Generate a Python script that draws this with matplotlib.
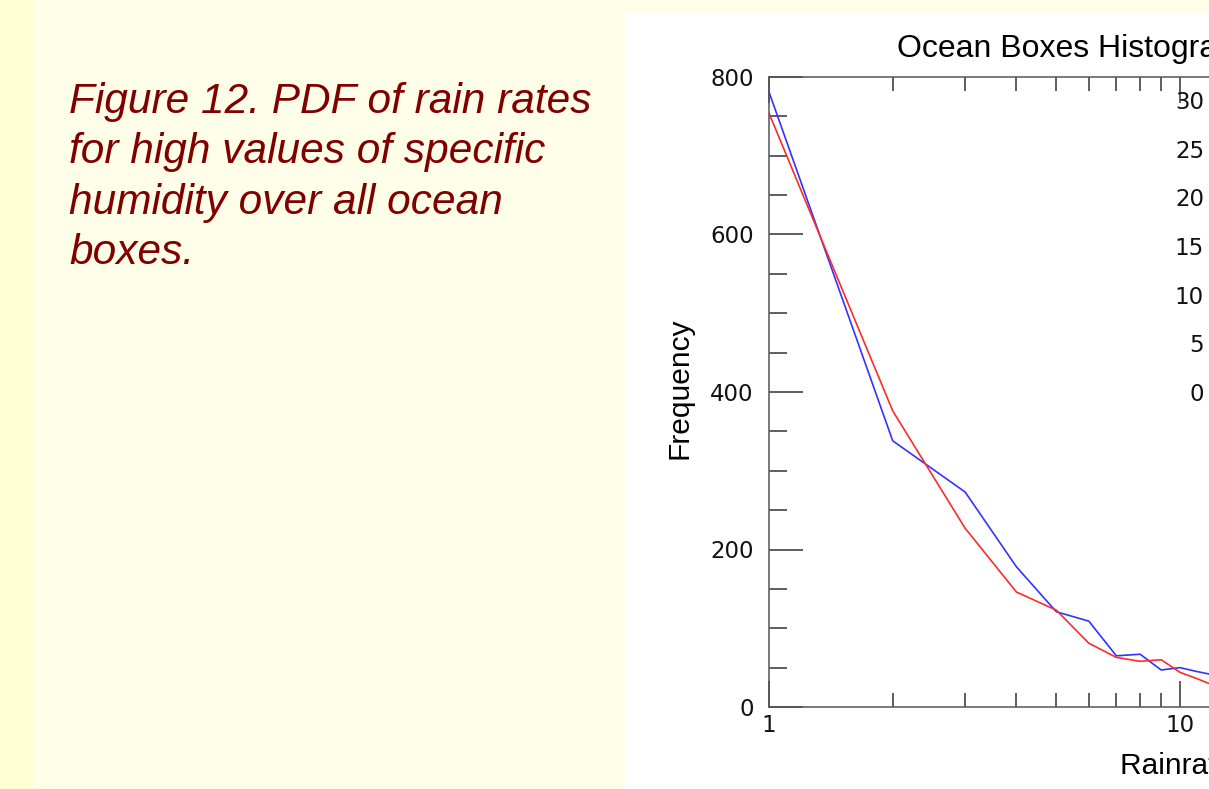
import numpy as np
import matplotlib.pyplot as plt
from matplotlib.patches import Rectangle
from matplotlib.ticker import LogLocator, MultipleLocator, NullFormatter, FuncFormatter

# -------------------------------------------------
# data (rain rate bins, counts)
rain_bins = [1, 2, 3, 4, 5, 6, 7, 8, 9, 10, 11, 12]
freq_red = [754, 376, 227, 146, 123, 81, 63, 58, 60, 44, 36, 28]
freq_blue = [781, 338, 273, 178, 121, 109, 65, 67, 47, 50, 45, 41]
inset_ticks = [0, 5, 10, 15, 20, 25, 30]

caption = ["Figure 12. PDF of rain rates",
           "for high values of specific",
           "humidity over all ocean",
           "boxes."]

W, H = 1209, 789
TICK_FONT = 16.5


def px(x, y):
    # pixel position (from top left) -> figure fraction
    return x / W, 1 - y / H


# -------------------------------------------------
fig = plt.figure(figsize=(W / 100, H / 100), dpi=100)
fig.patch.set_facecolor("#FFFEE8")

# slide decoration: left strip and white picture panel (kept behind the axes)
fig.patches.append(Rectangle((0, 0), 33 / W, 1, transform=fig.transFigure,
                             facecolor="#FFFFD4", edgecolor="none", zorder=-10))
fig.patches.append(Rectangle((625 / W, 0), 1, 1 - 13 / H, transform=fig.transFigure,
                             facecolor="white", edgecolor="none", zorder=-10))

for i, line in enumerate(caption):
    x, y = px(69, 113 + i * 50.3)
    fig.text(x, y, line, fontsize=30.5, style="italic", color="#800000",
             family="Liberation Sans", va="baseline", ha="left")

# main axes (runs off the right side of the slide)
left, bottom = px(769, 707)
ax = fig.add_axes([left, bottom, 822 / W, 630 / H])
ax.set_facecolor("none")
ax.plot(rain_bins, freq_blue, color="#3333FF", lw=1.2)
ax.plot(rain_bins, freq_red, color="#FF2A2A", lw=1.2)

ax.set_xscale("log")
ax.set_xlim(1, 100)
ax.set_ylim(0, 800)
ax.xaxis.set_major_locator(LogLocator(base=10))
ax.xaxis.set_minor_locator(LogLocator(base=10, subs=np.arange(2, 10)))
ax.xaxis.set_major_formatter(FuncFormatter(lambda v, p: f"{v:g}"))
ax.xaxis.set_minor_formatter(NullFormatter())
ax.yaxis.set_major_locator(MultipleLocator(200))
ax.yaxis.set_minor_locator(MultipleLocator(50))

for s in ax.spines.values():
    s.set_color("#555555")
    s.set_linewidth(1.1)
ax.tick_params(axis="x", which="both", direction="in", top=True, bottom=True,
               colors="#333333", labelcolor="#111111", width=1.1, pad=5,
               labelsize=TICK_FONT, labelfontfamily="DejaVu Sans")
ax.tick_params(axis="x", which="major", length=19)
ax.tick_params(axis="x", which="minor", length=10)
ax.tick_params(axis="y", which="both", direction="in", left=True, right=False,
               colors="#333333", labelcolor="#111111", width=1.1, pad=11,
               labelsize=TICK_FONT, labelfontfamily="DejaVu Sans")
ax.tick_params(axis="y", which="major", length=24.5)
ax.tick_params(axis="y", which="minor", length=13)

# labels placed by pixel so the cut-off matches the slide
x, y = px(897, 57)
fig.text(x, y, "Ocean Boxes Histogram", fontsize=23, family="Liberation Sans",
         va="baseline", ha="left")
x, y = px(688, 388)
fig.text(x, y, "Frequency", fontsize=21.5, family="Liberation Sans",
         rotation=90, rotation_mode="anchor", va="baseline", ha="center")
x, y = px(1120, 774)
fig.text(x, y, "Rainrate (mm/hr)", fontsize=21.5, family="Liberation Sans",
         va="baseline", ha="left")

# inset panel, only its tick labels show at the edge
ileft, ibottom = px(1211, 392)
ax2 = fig.add_axes([ileft, ibottom, 0.2, 292 / H])
ax2.set_facecolor("none")
ax2.set_ylim(0, 30)
ax2.set_yticks(inset_ticks)
ax2.set_xticks([])
ax2.tick_params(axis="y", length=0, pad=5, labelsize=TICK_FONT,
                labelcolor="#111111", labelfontfamily="DejaVu Sans")
for s in ax2.spines.values():
    s.set_visible(False)

fig.savefig("out.png", dpi=100, facecolor=fig.get_facecolor())
